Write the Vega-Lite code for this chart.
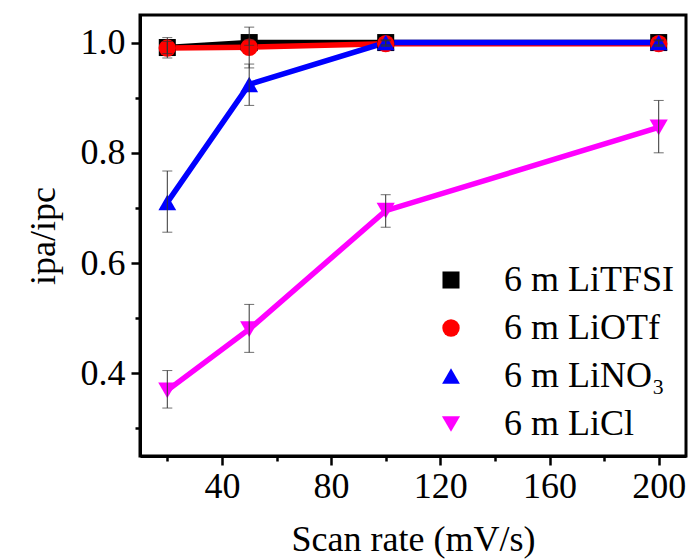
{
  "$schema": "https://vega.github.io/schema/vega-lite/v6.json",
  "width": 546,
  "height": 441,
  "autosize": {"type": "none"},
  "padding": {"left": 140, "top": 15, "right": 6, "bottom": 103},
  "background": "white",
  "config": {
    "view": {"stroke": "black", "strokeWidth": 3},
    "font": "Liberation Serif"
  },
  "data": {
    "values": [
      {"series": "6 m LiTFSI", "rate": 20, "r": 0.991, "lo": 0.98, "hi": 1.002},
      {"series": "6 m LiTFSI", "rate": 50, "r": 1.0, "lo": 0.995, "hi": 1.005},
      {"series": "6 m LiTFSI", "rate": 100, "r": 1.0, "lo": 0.996, "hi": 1.004},
      {"series": "6 m LiTFSI", "rate": 200, "r": 1.0, "lo": 0.996, "hi": 1.004},
      {"series": "6 m LiOTf", "rate": 20, "r": 0.99, "lo": 0.972, "hi": 1.009},
      {"series": "6 m LiOTf", "rate": 50, "r": 0.9915, "lo": 0.954, "hi": 1.028},
      {"series": "6 m LiOTf", "rate": 100, "r": 0.998, "lo": 0.993, "hi": 1.003},
      {"series": "6 m LiOTf", "rate": 200, "r": 0.998, "lo": 0.993, "hi": 1.003},
      {"series": "6 m LiNO₃", "rate": 20, "r": 0.71, "lo": 0.656, "hi": 0.767},
      {"series": "6 m LiNO₃", "rate": 50, "r": 0.924, "lo": 0.886, "hi": 0.961},
      {"series": "6 m LiNO₃", "rate": 100, "r": 1.0, "lo": 0.995, "hi": 1.005},
      {"series": "6 m LiNO₃", "rate": 200, "r": 1.0, "lo": 0.995, "hi": 1.005},
      {"series": "6 m LiCl", "rate": 20, "r": 0.369, "lo": 0.337, "hi": 0.405},
      {"series": "6 m LiCl", "rate": 50, "r": 0.48, "lo": 0.438, "hi": 0.525},
      {"series": "6 m LiCl", "rate": 100, "r": 0.695, "lo": 0.665, "hi": 0.724},
      {"series": "6 m LiCl", "rate": 200, "r": 0.846, "lo": 0.8, "hi": 0.895}
    ]
  },
  "layer": [
    {
      "mark": {"type": "line", "strokeWidth": 5.5},
      "encoding": {
        "x": {
          "field": "rate", "type": "quantitative",
          "scale": {"domain": [10, 210], "nice": false, "zero": false},
          "axis": {
            "title": "Scan rate (mV/s)",
            "values": [20, 40, 60, 80, 100, 120, 140, 160, 180, 200],
            "labelExpr": "datum.value % 40 === 0 ? datum.label : ''",
            "tickSize": {"condition": {"test": "datum.value % 40 === 0", "value": 9}, "value": 5},
            "grid": false,
            "domainColor": "black", "domainWidth": 3,
            "tickColor": "black", "tickWidth": 2.5,
            "labelFont": "Liberation Serif", "labelFontSize": 36, "labelColor": "black", "labelPadding": 4,
            "labelFlush": false, "labelOverlap": false,
            "titleFont": "Liberation Serif", "titleFontSize": 36, "titleFontWeight": "normal", "titleColor": "black", "titlePadding": 18
          }
        },
        "y": {
          "field": "r", "type": "quantitative",
          "scale": {"domain": [0.25, 1.05], "nice": false, "zero": false},
          "axis": {
            "title": "ipa/ipc",
            "values": [0.3, 0.4, 0.5, 0.6, 0.7, 0.8, 0.9, 1.0],
            "labelExpr": "round(datum.value * 10) % 2 === 0 ? format(datum.value, '.1f') : ''",
            "tickSize": {"condition": {"test": "round(datum.value * 10) % 2 === 0", "value": 9}, "value": 5},
            "grid": false,
            "domainColor": "black", "domainWidth": 3,
            "tickColor": "black", "tickWidth": 2.5,
            "labelFont": "Liberation Serif", "labelFontSize": 36, "labelColor": "black", "labelPadding": 6,
            "labelFlush": false, "labelOverlap": false,
            "titleFont": "Liberation Serif", "titleFontSize": 36, "titleFontWeight": "normal", "titleColor": "black", "titlePadding": 18
          }
        },
        "color": {
          "field": "series", "type": "nominal",
          "scale": {"domain": ["6 m LiTFSI", "6 m LiOTf", "6 m LiNO₃", "6 m LiCl"], "range": ["#000000", "#ff0000", "#0000ff", "#ff00ff"]}
        }
      }
    },
    {
      "mark": {"type": "point", "filled": true, "opacity": 1, "strokeWidth": 0},
      "encoding": {
        "x": {"field": "rate", "type": "quantitative", "title": "Scan rate (mV/s)"},
        "y": {"field": "r", "type": "quantitative", "title": "ipa/ipc"},
        "fill": {
          "field": "series", "type": "nominal",
          "scale": {"domain": ["6 m LiTFSI", "6 m LiOTf", "6 m LiNO₃", "6 m LiCl"], "range": ["#000000", "#ff0000", "#0000ff", "#ff00ff"]}
        },
        "shape": {
          "field": "series", "type": "nominal",
          "scale": {"domain": ["6 m LiTFSI", "6 m LiOTf", "6 m LiNO₃", "6 m LiCl"], "range": ["square", "circle", "triangle-up", "triangle-down"]},
          "legend": {
            "orient": "none", "legendX": 293, "legendY": 247, "title": null, "padding": 0,
            "labelFont": "Liberation Serif", "labelFontSize": 36, "labelColor": "black", "labelOffset": 35, "labelLimit": 0,
            "symbolSize": 400, "symbolStrokeWidth": 0, "rowPadding": 12
          }
        },
        "size": {
          "field": "series", "type": "nominal",
          "scale": {"domain": ["6 m LiTFSI", "6 m LiOTf", "6 m LiNO₃", "6 m LiCl"], "range": [290, 330, 480, 460]}
        }
      }
    },
    {
      "mark": {"type": "errorbar", "ticks": true, "color": "#333333", "thickness": 1, "size": 10},
      "encoding": {
        "x": {"field": "rate", "type": "quantitative", "title": "Scan rate (mV/s)"},
        "y": {"field": "lo", "type": "quantitative", "title": "ipa/ipc"},
        "y2": {"field": "hi"}
      }
    }
  ]
}
